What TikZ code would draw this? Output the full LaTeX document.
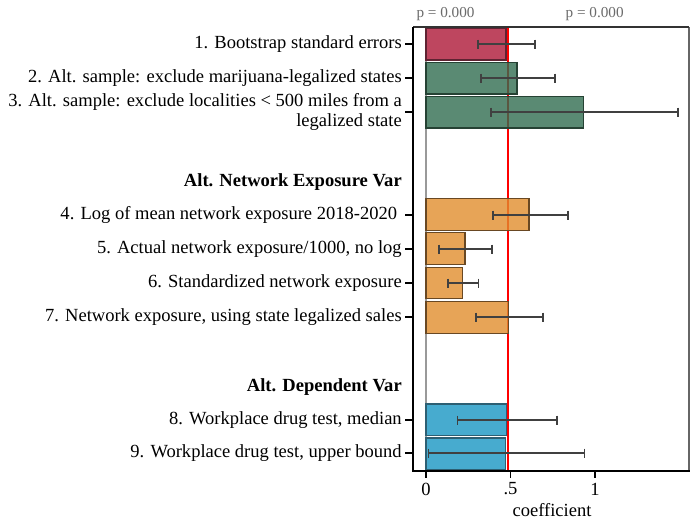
\documentclass[tikz,border=0pt]{standalone}
\usepackage{fontspec}
\setmainfont{Liberation Serif}
\begin{document}
\begin{tikzpicture}[x=0.75pt,y=-0.75pt,
  lab/.style={anchor=east,font=\fontsize{13.9}{15}\selectfont,inner sep=0pt,align=right},
  hdr/.style={anchor=east,font=\fontsize{13.9}{15}\selectfont\bfseries,inner sep=0pt},
  ptxt/.style={font=\fontsize{11.4}{13}\selectfont,text=black!58,inner sep=0pt},
  ticklab/.style={font=\fontsize{13.9}{15}\selectfont,inner sep=0pt},
  ytick/.style={line width=0.8pt,black},
  bar/.style={fill opacity=0.8,line width=1pt},
  ci/.style={line width=1.2pt,draw=black!75},
  crim/.style={bar,fill={rgb,255:red,174;green,24;blue,55},draw={rgb,255:red,95;green,35;blue,50}},
  grn/.style={bar,fill={rgb,255:red,49;green,109;blue,80},draw={rgb,255:red,38;green,66;blue,52}},
  org/.style={bar,fill={rgb,255:red,226;green,142;blue,45},draw={rgb,255:red,105;green,72;blue,35}},
  blu/.style={bar,fill={rgb,255:red,26;green,150;blue,195},draw={rgb,255:red,45;green,95;blue,115}}]
\useasboundingbox (0,0) rectangle (691,521);
\fill[white] (0,0) rectangle (691,521);
% zero line and red line
\draw[black!40,line width=1pt] (426,27) -- (426,471);
\draw[red,line width=1pt] (508,27) -- (508,471);
% confidence interval helper
\newcommand\myci[3]{% y, lo, hi
  \draw[ci] (#2,#1) -- (#3,#1);
  \draw[ci] (#2,#1-4.5) -- (#2,#1+4.5);
  \draw[ci] (#3,#1-4.5) -- (#3,#1+4.5);}
% bars
\draw[crim] (426,28) rectangle (506,60);   \myci{44}{477.7}{535}
\draw[grn] (426,62.5) rectangle (517,94);  \myci{78}{480.7}{555}
\draw[grn] (426,96.7) rectangle (583.7,128); \myci{112}{490.7}{677.7}
\draw[org] (426,198.3) rectangle (529,230.7); \myci{215}{492.7}{567.7}
\draw[org] (426,232.7) rectangle (465,264.3); \myci{249}{439}{492}
\draw[org] (426,267.3) rectangle (462.7,298.7); \myci{283}{447.7}{478.3}
\draw[org] (426,301.7) rectangle (508.3,333.3); \myci{317}{476}{542.7}
\draw[blu] (426,404) rectangle (506.7,435.3); \myci{420}{457.3}{556.7}
\draw[blu] (426,438) rectangle (505.7,470); \myci{453}{428.3}{584.3}
% frame
\draw[black!60,line width=1.3pt] (689,27) -- (689,471);
\draw[black!80,line width=0.9pt] (413,27) -- (689,27);
\draw[black,line width=1.6pt] (413,26.5) -- (413,471) -- (689.6,471);
% y ticks and labels
\foreach \yy in {44,78,112,215,249,283,317,420,453}
  \draw[ytick] (405,\yy) -- (413,\yy);
\node[lab] (l1) at (402,44) {1. Bootstrap standard errors};
\node[lab] (l2) at (402,78) {2. Alt. sample: exclude marijuana-legalized states};
\node[lab] (l3) at (402,112) {3. Alt. sample: exclude localities < 500 miles from a\\legalized state};
\node[hdr] (h1) at (402,182) {Alt. Network Exposure Var};
\node[lab] (l4) at (402,215) {4. Log of mean network exposure 2018-2020\ };
\node[lab] (l5) at (402,249) {5. Actual network exposure/1000, no log};
\node[lab] (l6) at (402,283) {6. Standardized network exposure};
\node[lab] (l7) at (402,317) {7. Network exposure, using state legalized sales};
\node[hdr] (h2) at (402,387) {Alt. Dependent Var};
\node[lab] (l8) at (402,420) {8. Workplace drug test, median};
\node[lab] (l9) at (402,453) {9. Workplace drug test, upper bound};
% x ticks
\foreach \xx/\tl in {426/0,510.5/.5,595/1}{
  \draw[line width=0.8pt] (\xx,471) -- (\xx,478);
  \node[ticklab] at (\xx,489) {\tl};}
\node[ticklab] (xl) at (552,510) {coefficient};
% p-values
\node[ptxt] (p1) at (445.5,14) {p = 0.000};
\node[ptxt] (p2) at (594.7,14) {p = 0.000};
\end{tikzpicture}
\end{document}
